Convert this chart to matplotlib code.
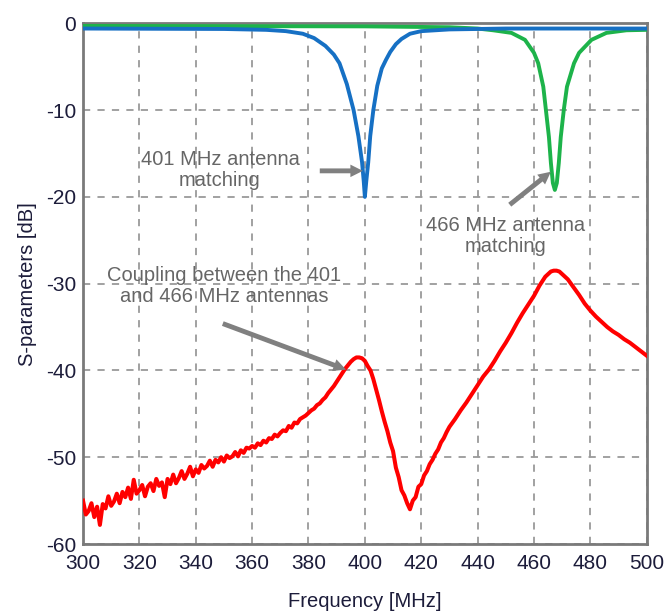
import matplotlib
matplotlib.use("Agg")
import matplotlib.pyplot as plt
from matplotlib import font_manager

# ---------------- data ----------------
blue_f = [300, 350, 365, 372, 378, 382, 386, 389, 391, 393.6, 396, 397.7, 399, 399.6, 400,
          400.5, 401.2, 401.9, 403, 404.4, 406, 407.5, 409, 411, 413, 416, 420, 430, 450, 500]
blue_db = [-0.6, -0.65, -0.75, -0.9, -1.2, -1.7, -2.6, -3.6, -4.6, -7.0, -10.0, -13.0, -16.0, -18.2, -20.0,
           -18.2, -16.0, -13.0, -10.0, -7.2, -5.2, -4.2, -3.3, -2.4, -1.8, -1.2, -0.9, -0.7, -0.6, -0.6]

green_f = [300, 400, 430, 440, 445.5, 452, 456.8, 460, 461.5, 463.3, 464.2, 465.3, 466, 466.7, 467.4,
           468.1, 468.8, 469.5, 470.6, 471.7, 474.2, 476, 480.4, 485.7, 492.8, 500]
green_db = [-0.3, -0.35, -0.45, -0.6, -0.8, -1.1, -1.9, -3.4, -4.6, -7.3, -9.9, -13.1, -16.1, -18.4, -19.2,
            -18.4, -16.1, -13.1, -9.9, -7.3, -4.6, -3.4, -1.9, -1.1, -0.8, -0.75]

red_f = list(range(300, 431)) + list(range(432, 466, 2)) + [466, 467, 468, 469, 470] + list(range(472, 501, 2))
red_db = [
    -55.0, -56.6, -56.2, -55.3, -56.9, -55.7, -57.8, -55.4, -55.9, -54.5,   # 300-309
    -55.6, -55.1, -54.2, -55.3, -54.0, -54.6, -53.5, -54.8, -52.6, -54.2,   # 310-319
    -53.8, -53.2, -54.5, -53.4, -53.0, -53.9, -52.5, -53.3, -52.9, -54.6,   # 320-329
    -52.5, -53.1, -52.0, -53.0, -52.4, -51.6, -52.5, -51.9, -51.1, -52.2,   # 330-339
    -51.4, -51.8, -50.9, -51.3, -51.0, -50.4, -51.1, -50.3, -50.6, -50.0,   # 340-349
    -50.5, -49.8, -50.1, -49.9, -49.4, -49.9, -49.2, -49.5, -48.9, -49.0,   # 350-359
    -48.7, -48.9, -48.4, -48.6, -48.1, -48.3, -47.8, -47.9, -47.4, -47.6,   # 360-369
    -47.2, -46.9, -47.0, -46.4, -46.6, -46.0, -46.1, -45.6, -45.4, -45.2,   # 370-379
    -44.9, -44.6, -44.4, -44.0, -43.8, -43.4, -43.1, -42.6, -42.2, -41.8,   # 380-389
    -41.3, -40.8, -40.3, -39.8, -39.4, -39.0, -38.7, -38.5, -38.5, -38.6,   # 390-399
    -38.9, -39.5, -40.0, -41.0, -42.2, -43.4, -44.7, -45.9, -47.0, -48.3,   # 400-409
    -49.3, -51.2, -52.3, -53.8, -54.4, -55.3, -56.0, -55.0, -54.6, -53.4,   # 410-419
    -53.1, -52.1, -51.6, -50.8, -50.3, -49.6, -49.1, -48.3, -47.8, -47.1,   # 420-429
    -46.5,                                                                  # 430
    -45.6, -44.6, -43.7, -42.7, -41.7, -40.7, -39.9, -38.9, -37.8, -36.8,   # 432-450
    -35.7, -34.5, -33.4, -32.4, -31.4, -30.2, -29.2,                        # 452-464
    -28.6, -28.5, -28.5, -28.6, -28.9,                                      # 466-470
    -29.5, -30.4, -31.3, -32.3, -33.1, -33.8, -34.4, -35.0, -35.5, -35.9,   # 472-490
    -36.4, -36.8, -37.3, -37.8, -38.3,                                      # 492-500
]

x_ticks = [300, 320, 340, 360, 380, 400, 420, 440, 460, 480, 500]
y_ticks = [0, -10, -20, -30, -40, -50, -60]

# ---------------- fonts ----------------
avail = {f.name for f in font_manager.fontManager.ttflist}
tick_font = "Liberation Sans Narrow" if "Liberation Sans Narrow" in avail else "Liberation Sans"
plt.rcParams["font.family"] = ["Liberation Sans", "DejaVu Sans"]
plt.rcParams["axes.unicode_minus"] = False

fig = plt.figure(figsize=(6.64, 6.14), dpi=100)
ax = fig.add_axes([0.125, 0.114, 0.849, 0.848])

ax.plot(green_f, green_db, color="#1db34a", lw=2.8, zorder=3, solid_joinstyle="round")
ax.plot(blue_f, blue_db, color="#1670c4", lw=2.8, zorder=4, solid_joinstyle="round")
ax.plot(red_f, red_db, color="#ff0000", lw=2.9, zorder=3, solid_joinstyle="round")

ax.set_xlim(300, 500)
ax.set_ylim(-60, 0)
ax.set_xticks(x_ticks)
ax.set_yticks(y_ticks)
ax.grid(True, color="#9a9a9a", linestyle=(0, (4, 4)), lw=1.3)
ax.tick_params(length=0, labelsize=15, labelcolor="#1c1c3a")
ax.tick_params(axis="x", pad=7)
ax.tick_params(axis="y", pad=5)
for lab in ax.get_xticklabels() + ax.get_yticklabels():
    lab.set_fontfamily(tick_font)
for sp in ax.spines.values():
    sp.set_color("#7a7a7a")
    sp.set_linewidth(2.0)

ax.set_xlabel("Frequency [MHz]", fontsize=14.5, color="#1c1c3a", labelpad=14)
ax.set_ylabel("S-parameters [dB]", fontsize=14.5, color="#1c1c3a", labelpad=6)

txt_c = "#666666"
arr_c = "#808080"
aprops = dict(arrowstyle="simple,head_length=0.9,head_width=0.9,tail_width=0.35",
              fc=arr_c, ec="none", shrinkA=0, shrinkB=0)

ax.text(348.6, -16.9, "401 MHz antenna\nmatching", ha="center", va="center",
        fontsize=14.5, color=txt_c, linespacing=1.15, zorder=5)
ax.annotate("", xy=(399.3, -17.0), xytext=(384.0, -17.0), arrowprops=aprops, zorder=6)

ax.text(450.0, -24.5, "466 MHz antenna\nmatching", ha="center", va="center",
        fontsize=14.5, color=txt_c, linespacing=1.15, zorder=5)
ax.annotate("", xy=(466.0, -17.1), xytext=(451.4, -20.9), arrowprops=aprops, zorder=6)

ax.text(350.0, -30.3, "Coupling between the 401\nand 466 MHz antennas", ha="center", va="center",
        fontsize=14.5, color=txt_c, linespacing=1.15, zorder=5)
ax.annotate("", xy=(393.3, -39.9), xytext=(349.6, -34.6), arrowprops=aprops, zorder=6)

fig.savefig("out.png", dpi=100)
